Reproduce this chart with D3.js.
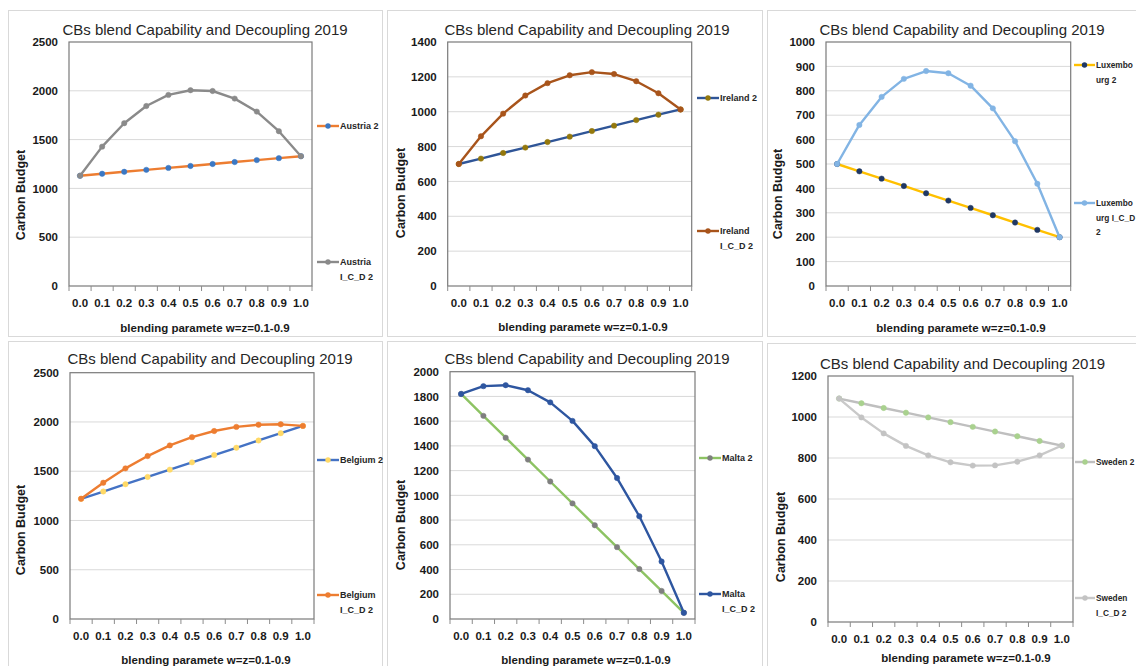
<!DOCTYPE html>
<html>
<head>
<meta charset="utf-8">
<script src="https://cdn.jsdelivr.net/npm/d3@7"></script>
<style>
  html, body { margin: 0; padding: 0; background: #ffffff; }
  svg { display: block; font-family: "Liberation Sans", Arial, sans-serif; }
</style>
</head>
<body>
<svg id="chart" width="1136" height="666"></svg>
<script>
// ---------------- DATA ----------------
const categories = ["0.0","0.1","0.2","0.3","0.4","0.5","0.6","0.7","0.8","0.9","1.0"];
const chartTitle = "CBs blend Capability and Decoupling 2019";
const xAxisTitle = "blending paramete w=z=0.1-0.9";
const yAxisTitle = "Carbon Budget";

const austria2      = [1130, 1150, 1170, 1190, 1210, 1230, 1250, 1270, 1290, 1310, 1330];
const austriaICD2   = [1130, 1428, 1668, 1844, 1958, 2006, 1998, 1920, 1787, 1586, 1330];
const ireland2      = [700, 731, 763, 794, 826, 857, 889, 920, 952, 983, 1013];
const irelandICD2   = [700, 859, 989, 1093, 1164, 1209, 1227, 1216, 1175, 1106, 1013];
const luxembourg2   = [500, 470, 440, 410, 380, 350, 320, 290, 260, 230, 200];
const luxembourgICD2= [500, 660, 775, 849, 881, 872, 821, 728, 593, 419, 200];
const belgium2      = [1220, 1294, 1368, 1442, 1516, 1590, 1664, 1738, 1812, 1886, 1960];
const belgiumICD2   = [1220, 1383, 1529, 1654, 1762, 1846, 1908, 1950, 1972, 1976, 1960];
const malta2        = [1820, 1643, 1466, 1289, 1112, 935, 758, 581, 404, 227, 50];
const maltaICD2     = [1820, 1883, 1891, 1850, 1752, 1602, 1398, 1140, 831, 465, 50];
const sweden2       = [1090, 1067, 1044, 1021, 998, 975, 952, 929, 906, 883, 860];
const swedenICD2    = [1090, 998, 920, 859, 813, 779, 763, 764, 782, 813, 861];

const yTicksAustria    = [0, 500, 1000, 1500, 2000, 2500];
const yTicksIreland    = [0, 200, 400, 600, 800, 1000, 1200, 1400];
const yTicksLuxembourg = [0, 100, 200, 300, 400, 500, 600, 700, 800, 900, 1000];
const yTicksBelgium    = [0, 500, 1000, 1500, 2000, 2500];
const yTicksMalta      = [0, 200, 400, 600, 800, 1000, 1200, 1400, 1600, 1800, 2000];
const yTicksSweden     = [0, 200, 400, 600, 800, 1000, 1200];

const legendNames = {
  austria2: ["Austria 2"], austriaICD2: ["Austria", "I_C_D 2"],
  ireland2: ["Ireland 2"], irelandICD2: ["Ireland", "I_C_D 2"],
  luxembourg2: ["Luxembo", "urg 2"], luxembourgICD2: ["Luxembo", "urg I_C_D", "2"],
  belgium2: ["Belgium 2"], belgiumICD2: ["Belgium", "I_C_D 2"],
  malta2: ["Malta 2"], maltaICD2: ["Malta", "I_C_D 2"],
  sweden2: ["Sweden 2"], swedenICD2: ["Sweden", "I_C_D 2"]
};

// ---------------- LAYOUT / STYLE ----------------
const panels = [
  { frame:[8,10,374,326], plot:[69,42,312,286], ticks:yTicksAustria, legFont:9, legLen:22,
    title:[205,29.5], xt:[205,328], yt:[21,195],
    series:[
      { vals:austria2, name:legendNames.austria2, line:"#ED7D31", mark:"#3B78C4", leg:[317,126] },
      { vals:austriaICD2, name:legendNames.austriaICD2, line:"#8a8a8a", mark:"#8a8a8a", leg:[317,262] } ] },
  { frame:[387,10,375,326], plot:[447.7,42,691.7,286], ticks:yTicksIreland, legFont:9, legLen:22,
    title:[587,29], xt:[583,326.5], yt:[400.5,193],
    series:[
      { vals:ireland2, name:legendNames.ireland2, line:"#2F5597", mark:"#94780c", leg:[697,98] },
      { vals:irelandICD2, name:legendNames.irelandICD2, line:"#A8541B", mark:"#A8541B", leg:[697,231] } ] },
  { frame:[767,10,380,326], plot:[826,42,1070.7,286], ticks:yTicksLuxembourg, legFont:8.3, legLen:21,
    title:[962,29.5], xt:[961,328], yt:[778,194],
    series:[
      { vals:luxembourg2, name:legendNames.luxembourg2, line:"#FFC000", mark:"#203864", leg:[1074,65] },
      { vals:luxembourgICD2, name:legendNames.luxembourgICD2, line:"#82B4E4", mark:"#82B4E4", leg:[1074,203] } ] },
  { frame:[8,341,374,330], plot:[70,372.7,314,619], ticks:yTicksBelgium, legFont:9, legLen:22,
    title:[210,358], xt:[206,660], yt:[21,530],
    series:[
      { vals:belgium2, name:legendNames.belgium2, line:"#4472C4", mark:"#FFD966", leg:[317,460] },
      { vals:belgiumICD2, name:legendNames.belgiumICD2, line:"#ED7D31", mark:"#ED7D31", leg:[317,595] } ] },
  { frame:[387,341,375,330], plot:[450,371.7,695,619], ticks:yTicksMalta, legFont:9, legLen:22,
    title:[587,358], xt:[586,660], yt:[400.5,525],
    series:[
      { vals:malta2, name:legendNames.malta2, line:"#8DC363", mark:"#7F7F7F", leg:[699,458] },
      { vals:maltaICD2, name:legendNames.maltaICD2, line:"#2E56A0", mark:"#2E56A0", leg:[699,594] } ] },
  { frame:[767,343,380,330], plot:[828,376,1073,622], ticks:yTicksSweden, legFont:8.3, legLen:20,
    title:[962.5,363], xt:[966,658], yt:[780.5,537],
    series:[
      { vals:sweden2, name:legendNames.sweden2, line:"#BFBFBF", mark:"#A9D18E", leg:[1075,462] },
      { vals:swedenICD2, name:legendNames.swedenICD2, line:"#C9C9C9", mark:"#C3C3C3", leg:[1075,598] } ] }
];

const svg = d3.select("#chart");

panels.forEach(p => {
  const g = svg.append("g");
  const [fx, fy, fw, fh] = p.frame;
  g.append("rect").attr("x", fx + 0.5).attr("y", fy + 0.5).attr("width", fw).attr("height", fh)
    .attr("fill", "#ffffff").attr("stroke", "#d9d9d9").attr("stroke-width", 1);

  const [L, T, R, B] = p.plot;
  const x = d3.scaleBand().domain(categories).range([L, R]).paddingInner(0).paddingOuter(0);
  const yMax = p.ticks[p.ticks.length - 1];
  const y = d3.scaleLinear().domain([0, yMax]).range([B, T]);

  // gridlines
  g.append("g").selectAll("line").data(p.ticks.filter(t => t > 0 && t < yMax)).join("line")
    .attr("x1", L).attr("x2", R).attr("y1", d => y(d)).attr("y2", d => y(d))
    .attr("stroke", "#d9d9d9").attr("stroke-width", 1);

  // plot border
  g.append("rect").attr("x", L).attr("y", T).attr("width", R - L).attr("height", B - T)
    .attr("fill", "none").attr("stroke", "#7a7a7a").attr("stroke-width", 1.2);

  // y axis labels
  const yAxis = d3.axisLeft(y).tickValues(p.ticks).tickSize(0).tickPadding(11).tickFormat(d3.format("d"));
  const ya = g.append("g").attr("transform", `translate(${L},0)`).call(yAxis);
  ya.select(".domain").remove();
  ya.selectAll("text").attr("font-size", "11.5px").attr("font-weight", "bold").attr("fill", "#1a1a1a")
    .attr("font-family", "Liberation Sans, Arial, sans-serif");

  // x axis
  const xAxis = d3.axisBottom(x).tickSize(0).tickPadding(13);
  const xa = g.append("g").attr("transform", `translate(0,${B})`).call(xAxis);
  xa.select(".domain").remove();
  xa.selectAll("text").attr("font-size", "11.5px").attr("font-weight", "bold").attr("fill", "#1a1a1a")
    .attr("font-family", "Liberation Sans, Arial, sans-serif");
  // tick marks at category boundaries
  const bounds = categories.map(c => x(c)).concat([R]);
  g.append("g").selectAll("line").data(bounds).join("line")
    .attr("x1", d => d).attr("x2", d => d).attr("y1", B).attr("y2", B + 5)
    .attr("stroke", "#8c8c8c").attr("stroke-width", 1);

  // titles
  g.append("text").attr("x", p.title[0]).attr("y", p.title[1]).attr("text-anchor", "middle")
    .attr("dominant-baseline", "central").attr("font-size", "15px").attr("fill", "#262626")
    .text(chartTitle);
  g.append("text").attr("x", p.xt[0]).attr("y", p.xt[1]).attr("text-anchor", "middle")
    .attr("dominant-baseline", "central").attr("font-size", "11.5px").attr("font-weight", "bold")
    .attr("fill", "#1a1a1a").text(xAxisTitle);
  g.append("text").attr("transform", `translate(${p.yt[0]},${p.yt[1]}) rotate(-90)`)
    .attr("text-anchor", "middle").attr("dominant-baseline", "central")
    .attr("font-size", "12.5px").attr("font-weight", "bold").attr("fill", "#1a1a1a").text(yAxisTitle);

  const line = d3.line().x((d, i) => x(categories[i]) + x.bandwidth() / 2).y(d => y(d));

  p.series.forEach(s => {
    g.append("path").datum(s.vals).attr("d", line).attr("fill", "none")
      .attr("stroke", s.line).attr("stroke-width", 2.4).attr("stroke-linejoin", "round");
    g.append("g").selectAll("circle").data(s.vals).join("circle")
      .attr("cx", (d, i) => x(categories[i]) + x.bandwidth() / 2).attr("cy", d => y(d))
      .attr("r", 2.7).attr("fill", s.mark).attr("stroke", s.mark).attr("stroke-width", 0.5);

    // legend
    const [lx, ly] = s.leg;
    g.append("line").attr("x1", lx).attr("x2", lx + p.legLen).attr("y1", ly).attr("y2", ly)
      .attr("stroke", s.line).attr("stroke-width", 2.4);
    g.append("circle").attr("cx", lx + p.legLen / 2).attr("cy", ly).attr("r", 2.7).attr("fill", s.mark);
    s.name.forEach((t, k) => {
      g.append("text").attr("x", lx + p.legLen + 1).attr("y", ly + k * 14.5).attr("dominant-baseline", "central")
        .attr("font-size", p.legFont + "px").attr("font-weight", "bold").attr("fill", "#262626").text(t);
    });
  });
});
</script>
</body>
</html>
